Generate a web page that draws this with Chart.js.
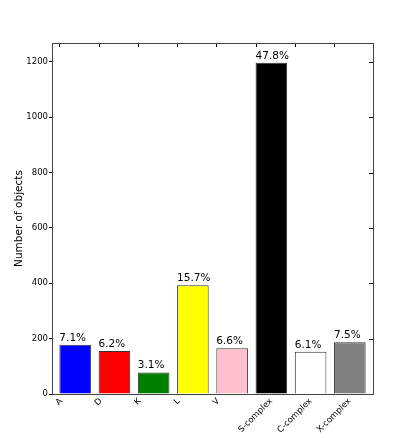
<!DOCTYPE html>
<html>
<head>
<meta charset="utf-8">
<script src="https://cdn.jsdelivr.net/npm/chart.js@4"></script>
<style>
  html, body { margin: 0; padding: 0; background: #fff; }
  #wrap { width: 415px; height: 438px; }
</style>
</head>
<body>
<div id="wrap"><canvas id="chart-area" width="415" height="438"></canvas></div>
<script>
// data
var categories = ["A", "D", "K", "L", "V", "S-complex", "C-complex", "X-complex"];
var counts = [178, 155, 78, 393, 165, 1197, 153, 187];
var percentLabels = ["7.1%", "6.2%", "3.1%", "15.7%", "6.6%", "47.8%", "6.1%", "7.5%"];
var barColors = ["#0000ff", "#ff0000", "#008000", "#ffff00", "#ffc0cb", "#000000", "#ffffff", "#808080"];
var yTicks = [0, 200, 400, 600, 800, 1000, 1200];

var points = counts.map(function(v, i) { return { x: i, y: v }; });

// matplotlib centers rotated tick labels on the bar's left edge
var centerXLabels = {
    id: "centerXLabels",
    beforeDraw: function(chart) {
        var meta = chart.getDatasetMeta(0);
        var items = chart.scales.x.getLabelItems(chart.chartArea);
        var ctx = chart.ctx;
        ctx.save();
        ctx.font = "8.5px 'DejaVu Sans'";
        items.forEach(function(item) {
            var i = categories.indexOf(item.label);
            if (i < 0) return;
            var bar = meta.data[i];
            var w = ctx.measureText(item.label).width;
            var half = (w / 2 + 4) * Math.SQRT1_2;
            item.options.textAlign = "center";
            item.options.textBaseline = "middle";
            item.textOffset = 0;
            item.options.translation = [bar.x - bar.width / 2, chart.chartArea.bottom + 3 + half];
        });
        ctx.restore();
    }
};

// percentages above the bars + inner tick marks on top/right + frame
var barLabels = {
    id: "barLabels",
    afterDatasetsDraw: function(chart) {
        var ctx = chart.ctx;
        var meta = chart.getDatasetMeta(0);
        ctx.save();
        ctx.fillStyle = "#000";
        ctx.font = "10.5px 'DejaVu Sans'";
        ctx.textAlign = "left";
        ctx.textBaseline = "alphabetic";
        meta.data.forEach(function(bar, i) {
            ctx.fillText(percentLabels[i], bar.x - bar.width / 2, bar.y - 4);
        });

        var area = chart.chartArea, ys = chart.scales.y;
        ctx.strokeStyle = "#000";
        ctx.lineWidth = 1;
        ctx.beginPath();
        yTicks.forEach(function(v) {
            var py = Math.round(ys.getPixelForValue(v)) + 0.5;
            ctx.moveTo(area.right, py); ctx.lineTo(area.right - 4, py);
        });
        meta.data.forEach(function(bar) {
            var px = Math.round(bar.x - bar.width / 2) + 0.5;
            ctx.moveTo(px, area.top); ctx.lineTo(px, area.top + 4);
        });
        ctx.stroke();
        ctx.strokeStyle = "#444";
        ctx.strokeRect(Math.round(area.left) + 0.5, Math.round(area.top) + 0.5,
                       Math.round(area.right - area.left), Math.round(area.bottom - area.top));
        ctx.restore();
    }
};

var ctx = document.getElementById("chart-area").getContext("2d");
var myChart = new Chart(ctx, {
    type: "bar",
    data: {
        datasets: [{
            data: points,
            backgroundColor: barColors,
            borderColor: "#333",
            borderWidth: 1,
            barPercentage: 0.805,
            categoryPercentage: 1.0
        }]
    },
    options: {
        responsive: false,
        animation: false,
        layout: { padding: { top: 43, right: 42, left: 9, bottom: 0 } },
        plugins: { legend: { display: false }, tooltip: { enabled: false } },
        scales: {
            x: {
                type: "linear",
                min: -0.59,
                max: 7.59,
                offset: false,
                grid: { display: false, drawTicks: false },
                border: { display: true, color: "#444" },
                ticks: {
                    stepSize: 1,
                    includeBounds: false,
                    autoSkip: false,
                    color: "#000",
                    font: { family: "DejaVu Sans", size: 8.5 },
                    minRotation: 45,
                    maxRotation: 45,
                    padding: 3,
                    callback: function(v) {
                        return (v >= 0 && v < categories.length && v === Math.round(v)) ? categories[v] : null;
                    }
                },
                afterFit: function(s) { s.height = 44; }
            },
            y: {
                min: 0,
                max: 1268,
                grid: { drawOnChartArea: false, tickLength: 3, color: "#000" },
                border: { display: true, color: "#444" },
                ticks: {
                    stepSize: 200,
                    includeBounds: false,
                    color: "#000",
                    font: { family: "DejaVu Sans", size: 8.5 },
                    padding: 1,
                    callback: function(v) { return String(v); }
                },
                title: {
                    display: true,
                    text: "Number of objects",
                    color: "#000",
                    font: { family: "DejaVu Sans", size: 10.5 },
                    padding: { top: 4, bottom: 0 }
                },
                afterFit: function(s) { s.width = 43; }
            }
        }
    },
    plugins: [centerXLabels, barLabels]
});
</script>
</body>
</html>
